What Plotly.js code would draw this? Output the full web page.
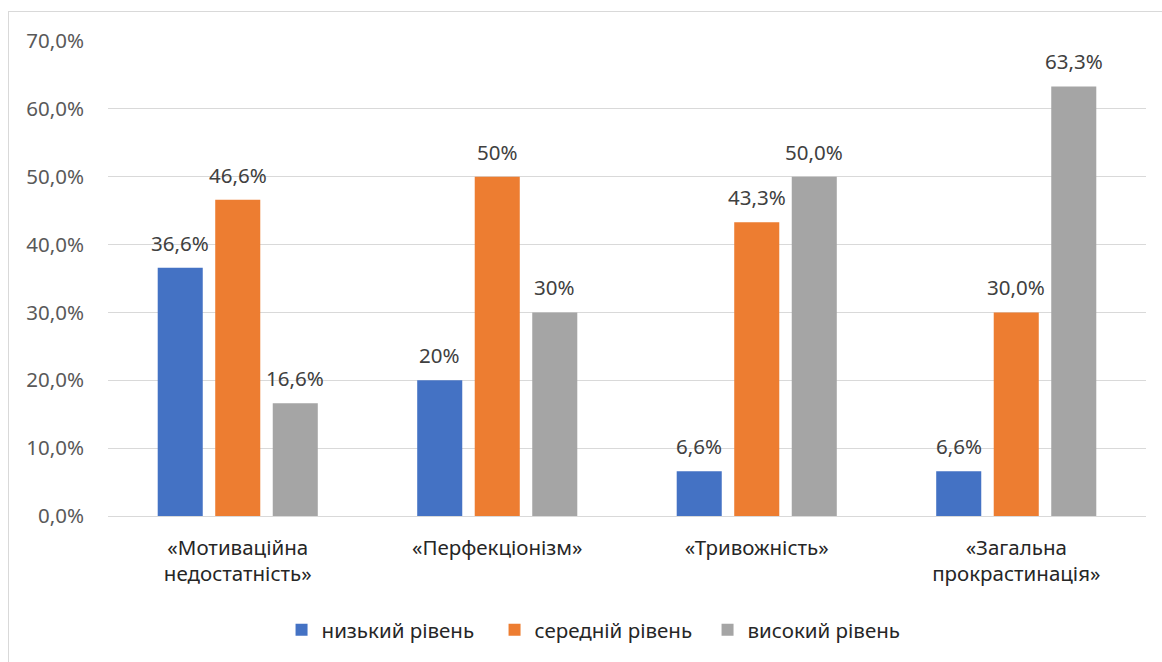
<!DOCTYPE html>
<html>
<head>
<meta charset="utf-8">
<script src="https://cdn.plot.ly/plotly-3.0.1.min.js"></script>
<style>
  html, body { margin: 0; padding: 0; background: #ffffff; }
  #frame { position: absolute; left: 8px; top: 11px; width: 1200px; height: 700px; border: 1px solid #d9d9d9; box-sizing: border-box; }
  #chart { position: absolute; left: 0; top: 0; width: 1162px; height: 662px; }
</style>
</head>
<body>
<div id="frame"></div>
<div id="chart"></div>
<script>
const categories = ["«Мотиваційна<br>недостатність»", "«Перфекціонізм»", "«Тривожність»", "«Загальна<br>прокрастинація»"];
const seriesNames = ["низький рівень", "середній рівень", "високий рівень"];
const lowValues = [36.6, 20, 6.6, 6.6];
const midValues = [46.6, 50, 43.3, 30];
const highValues = [16.6, 30, 50, 63.3];
const lowLabels = ["36,6%", "20%", "6,6%", "6,6%"];
const midLabels = ["46,6%", "50%", "43,3%", "30,0%"];
const highLabels = ["16,6%", "30%", "50,0%", "63,3%"];
const tickValues = [0, 10, 20, 30, 40, 50, 60, 70];
const tickLabels = ["0,0%", "10,0%", "20,0%", "30,0%", "40,0%", "50,0%", "60,0%", "70,0%"];
const colors = ["#4472c4", "#ed7d31", "#a5a5a5"];

const FONT = "Noto Sans, Open Sans, sans-serif";
const FS = 20.5;
const W = 1162, H = 662;
const margin = {l: 108, r: 16, t: 41, b: 146};
const bargap = 0.335, bargroupgap = 0.217;

const allVals = [lowValues, midValues, highValues];
const allLabels = [lowLabels, midLabels, highLabels];

const data = allVals.map((vals, i) => ({
  type: "bar", name: seriesNames[i], x: categories, y: vals,
  marker: {color: colors[i]}, hoverinfo: "none"
}));

// data labels as annotations, offset to each bar's slot within its group
const catPx = (W - margin.l - margin.r) / categories.length;
const slotPx = catPx * (1 - bargap) / allVals.length;
const annotations = [];
allVals.forEach((vals, i) => {
  vals.forEach((v, j) => {
    annotations.push({
      x: categories[j], y: v, xref: "x", yref: "y",
      text: allLabels[i][j], showarrow: false,
      xanchor: "center", yanchor: "bottom",
      xshift: (i - 1) * slotPx, yshift: 9,
      font: {family: FONT, size: FS, color: "#404040"}
    });
  });
});

const layout = {
  width: W, height: H, margin: margin,
  paper_bgcolor: "rgba(0,0,0,0)", plot_bgcolor: "rgba(0,0,0,0)",
  barmode: "group", bargap: bargap, bargroupgap: bargroupgap,
  font: {family: FONT, size: FS, color: "#595959"},
  showlegend: true,
  legend: {orientation: "h", x: 0.475, xanchor: "center", y: -0.24, yanchor: "middle",
           entrywidth: 168,
           font: {family: FONT, size: FS, color: "#262626"}, itemwidth: 30, tracegroupgap: 0},
  annotations: annotations,
  xaxis: {showgrid: false, showline: true, linecolor: "#d9d9d9", linewidth: 1, ticks: "",
          ticklabelstandoff: 13,
          tickfont: {family: FONT, size: FS, color: "#262626"}, fixedrange: true},
  yaxis: {range: [0, 70], tickvals: tickValues, ticktext: tickLabels, showgrid: true,
          gridcolor: "#d9d9d9", gridwidth: 1, zeroline: false, showline: false, ticks: "",
          ticklabelstandoff: 23,
          tickfont: {family: FONT, size: FS, color: "#595959"}, fixedrange: true}
};
Plotly.newPlot("chart", data, layout, {displayModeBar: false, staticPlot: true});
</script>
</body>
</html>
